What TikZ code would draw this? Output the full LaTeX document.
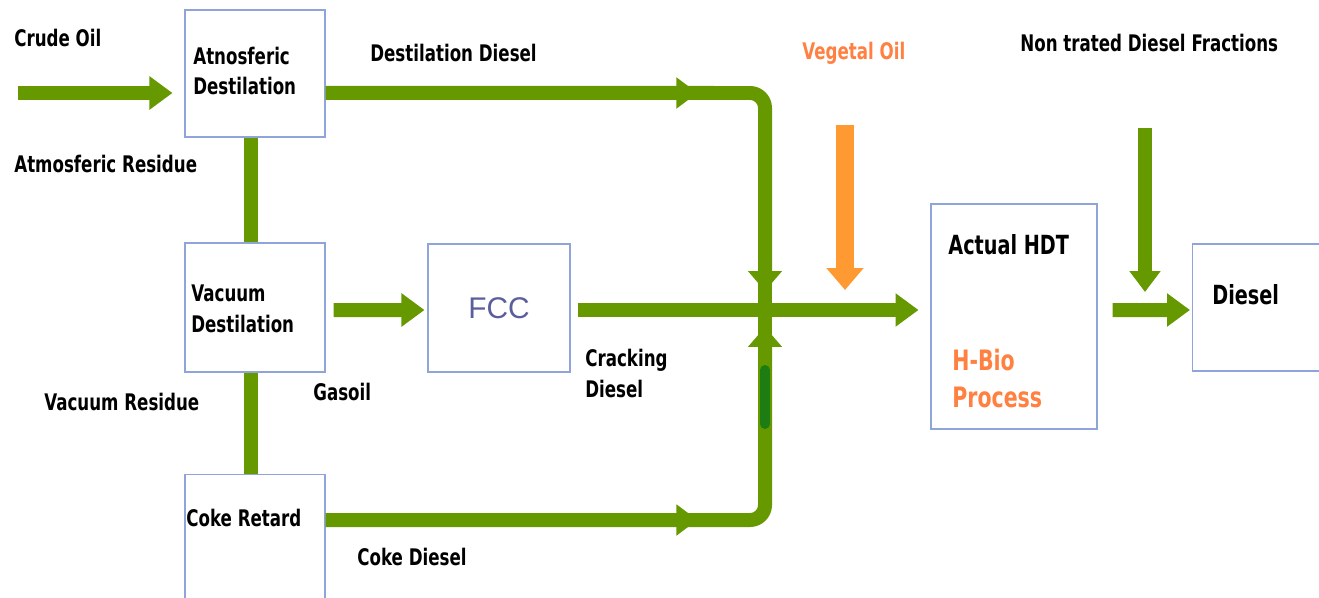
\documentclass[tikz,border=0pt]{standalone}
\usepackage{fontspec}
\setmainfont{DejaVu Sans}
\newfontfamily\condfont[FakeStretch=0.73]{DejaVu Sans}
\newfontfamily\arialfont{Liberation Sans}
\usetikzlibrary{arrows.meta, positioning, calc, decorations.markings}
\definecolor{pipegreen}{HTML}{669900}
\definecolor{darkpipe}{HTML}{1E7D12}
\definecolor{vegorange}{HTML}{FF9A33}
\definecolor{txtorange}{HTML}{FF8040}
\definecolor{boxblue}{HTML}{8FA5D9}
\definecolor{fccslate}{HTML}{5B5E9C}

\begin{document}
\begin{tikzpicture}[x=0.02cm, y=-0.02cm,
  >={Triangle[length=0.46cm, width=0.64cm]},
  box/.style={draw=boxblue, line width=0.6pt, fill=white, inner sep=0pt},
  flow/.style={pipegreen, line width=0.28cm},
  lbl/.style={font=\condfont\bfseries\fontsize{13}{15}\selectfont, anchor=west, inner sep=0pt},
  midarrow/.style={postaction={decorate}, decoration={markings,
    mark=at position #1 with {\arrow{Triangle[length=0.42cm, width=0.6cm]}}}}]

% Canvas
\useasboundingbox (0,0) rectangle (1319,598);
\clip (0,0) rectangle (1319,598);

% --- Boxes ---
\node[box, minimum width=2.8cm, minimum height=2.54cm] (atm) at (255,73.5) {};
\node[box, minimum width=2.8cm, minimum height=2.58cm] (vac) at (255,307.5) {};
\node[box, minimum width=2.8cm, minimum height=3.5cm] (coke) at (255,562) {};
\node[box, minimum width=2.84cm, minimum height=2.56cm] (fcc) at (499,308) {};
\node[box, minimum width=3.32cm, minimum height=4.5cm] (hdt) at (1014,316.5) {};
\node[box, minimum width=2.94cm, minimum height=2.54cm] (dsl) at (1266,307.5) {};

% --- Pipes ---
\coordinate (crude) at (18,93);
\draw[flow, ->] (crude) -- ([shift={(-12,19.5)}]atm.west);

\draw[flow] ([xshift=-0.08cm]atm.south) -- ([xshift=-0.08cm]vac.north);
\draw[flow] ([xshift=-0.08cm]vac.south) -- ([xshift=-0.08cm]coke.north);

% junction: the vertical pipe runs through
\coordinate (jtop) at (765,280);
\coordinate (jbot) at (765,340);
\draw[flow] (jtop) -- (jbot);

% destilation diesel, down into the junction
\draw[flow, -{Triangle[length=0.4cm, width=0.66cm]}, rounded corners=0.3cm, midarrow=7.44cm]
  ([yshift=-0.39cm]atm.east) -- (765,93) -- (765,291);

% coke diesel, up into the junction
\draw[flow, -{Triangle[length=0.4cm, width=0.66cm]}, rounded corners=0.3cm, midarrow=7.44cm]
  ([yshift=0.84cm]coke.east) -- (765,520) -- (765,327);
\draw[darkpipe, line width=0.2cm, line cap=round] (765,370) -- (765,424);

% gasoil and cracking diesel
\draw[flow, ->] ([shift={(8,2.5)}]vac.east) -- ([shift={(-3,2)}]fcc.west);
\draw[flow, ->] ([shift={(7,2)}]fcc.east) -- ([shift={(-12,-6.5)}]hdt.west);

% vegetal oil
\coordinate (veg) at (845,125);
\draw[vegorange, line width=0.36cm, -{Triangle[length=0.44cm, width=0.72cm]}]
  (veg) -- (845,290);

% non trated fractions and diesel out
\coordinate (ntd) at (1145,128);
\draw[flow, -{Triangle[length=0.42cm, width=0.6cm]}] (ntd) -- (1145,292);
\draw[flow, ->] ([shift={(15,-6.5)}]hdt.east) -- ([shift={(-2,2.5)}]dsl.west);

% --- Labels ---
\node[lbl] (lcrude) at (14,38) {Crude Oil};
\node[lbl, align=left, font=\condfont\bfseries\fontsize{13}{17}\selectfont]
  (latm) at (193,71) {Atnosferic\\Destilation};
\node[lbl] (lres) at (14,164) {Atmosferic Residue};
\node[lbl] (ldest) at (370,53) {Destilation Diesel};
\node[lbl, text=txtorange] (lveg) at (802,53) {Vegetal Oil};
\node[lbl] (lntd) at (1020,43) {Non trated Diesel Fractions};
\node[lbl, align=left, font=\condfont\bfseries\fontsize{13}{17.6}\selectfont]
  (lvac) at (191,308.5) {Vacuum\\Destilation};
\node[font=\arialfont\fontsize{17}{20}\selectfont, text=fccslate] (lfcc) at (fcc) {FCC};
\node[lbl, align=left, font=\condfont\bfseries\fontsize{13}{17.6}\selectfont]
  (lcrack) at (585,373.5) {Cracking\\Diesel};
\node[lbl] (lgas) at (313,392) {Gasoil};
\node[lbl] (lvres) at (44,402) {Vacuum Residue};
\node[lbl] (lcoke) at (186,518) {Coke Retard};
\node[lbl] (lcdsl) at (357,557) {Coke Diesel};
\node[lbl, font=\condfont\bfseries\fontsize{15}{18}\selectfont] (lhdt) at (948,245) {Actual HDT};
\node[lbl, align=left, text=txtorange, font=\condfont\bfseries\fontsize{16}{21}\selectfont]
  (lbio) at (952,378.5) {H-Bio\\Process};
\node[lbl, font=\condfont\bfseries\fontsize{15}{18}\selectfont] (ldsl) at (1212,295) {Diesel};

\end{tikzpicture}
\end{document}
